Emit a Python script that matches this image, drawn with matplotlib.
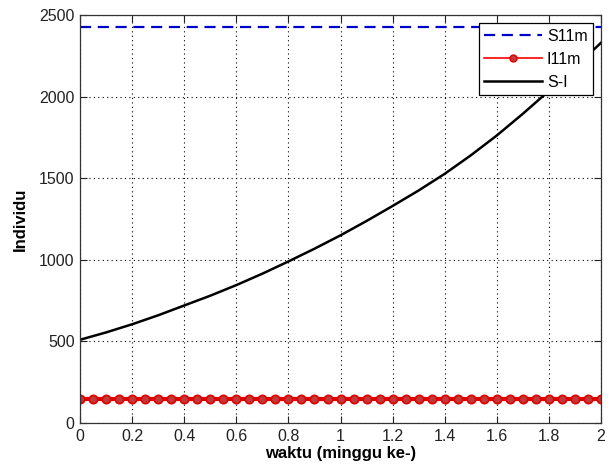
import matplotlib.pyplot as plt
from matplotlib.lines import Line2D
import numpy as np

# ------------------------------  data  ------------------------------
t_markers = np.linspace(0, 2, 41)            # I11m marker positions (step 0.05)
i11m_level = 145
s11m_level = 2425

t_curve = [0, 0.1, 0.2, 0.3, 0.4, 0.5, 0.6, 0.7, 0.8, 0.9, 1.0,
           1.1, 1.2, 1.3, 1.4, 1.5, 1.6, 1.7, 1.8, 1.9, 2.0]
s_minus_i = [510, 555, 605, 660, 720, 780, 845, 915, 990, 1068, 1150,
             1238, 1330, 1425, 1527, 1640, 1762, 1895, 2035, 2180, 2330]

xticks = [0, 0.2, 0.4, 0.6, 0.8, 1, 1.2, 1.4, 1.6, 1.8, 2]
xtick_labels = ['0', '0.2', '0.4', '0.6', '0.8', '1', '1.2', '1.4', '1.6', '1.8', '2']
yticks = [0, 500, 1000, 1500, 2000, 2500]

plt.rcParams['font.family'] = ['Liberation Sans', 'DejaVu Sans']

# ------------------------------  figure  ------------------------------
fig = plt.figure(figsize=(6.16, 4.71), dpi=100)
ax = fig.add_axes([0.130, 0.102, 0.8456, 0.866])

h1, = ax.plot([0, 2], [s11m_level, s11m_level], color='#0000cc', linestyle=(0, (5, 3)),
              linewidth=1.6, label='S11m')
ax.plot(t_markers, [i11m_level] * len(t_markers), color='#e00000', linewidth=3,
        marker='o', markersize=6, markerfacecolor='#c03a3a', markeredgecolor='#e00000',
        markeredgewidth=1.2)
h3, = ax.plot(t_curve, s_minus_i, color='black', linewidth=1.8, label='S-I')

# legend entry for I11m is drawn thin, as in the original
h2 = Line2D([], [], color='#ff0000', linewidth=1.2, marker='o', markersize=5,
            markerfacecolor='#c03a3a', markeredgecolor='#e00000', label='I11m')

ax.set_xlim(0, 2)
ax.set_ylim(0, 2500)
ax.set_xticks(xticks)
ax.set_xticklabels(xtick_labels)
ax.set_yticks(yticks)
ax.tick_params(direction='in', top=True, right=True, labelsize=11.5, length=5,
               width=0.8, colors='#222222', pad=4)
ax.grid(True, color='black', linestyle=(0, (1, 3)), linewidth=0.8)

for s in ax.spines.values():
    s.set_color('#333333')
    s.set_linewidth(0.9)

label_font = dict(family=['Liberation Sans Narrow', 'Liberation Sans', 'DejaVu Sans'],
                  fontweight='bold', fontsize=12)
ax.set_xlabel('waktu (minggu ke-)', labelpad=2, **label_font)
ax.set_ylabel('Individu', labelpad=8, **label_font)

leg = ax.legend(handles=[h1, h2, h3], loc='upper right', fontsize=11.5, handlelength=3.6,
                borderaxespad=0.5, fancybox=False, framealpha=1,
                edgecolor='black', labelspacing=0.5, handletextpad=0.3,
                borderpad=0.35)
leg.get_frame().set_linewidth(0.9)

fig.savefig('out.png', dpi=100)
